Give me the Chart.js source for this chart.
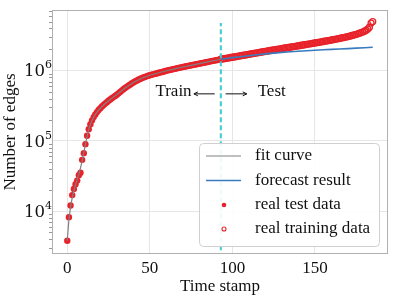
<!DOCTYPE html>
<html>
<head>
<meta charset="utf-8">
<script src="https://cdn.jsdelivr.net/npm/chart.js@4/dist/chart.umd.min.js"></script>
<style>
  html, body { margin: 0; padding: 0; background: #fff; }
  #wrap { width: 399px; height: 298px; }
</style>
</head>
<body>
<div id="wrap"><canvas id="edgeChart"></canvas></div>
<script>
// real data, one value per time stamp
const testStart = 0;
const testEdges = [3780, 8200, 12000, 16900, 20600, 24200, 27200, 32500, 35100, 53700, 66800,
  89800, 118000, 146000, 172000, 196000, 218000, 238000, 257000, 275000, 292000,
  308000, 324000, 340000, 356000, 372000, 388000, 404000, 420000, 437000, 455000,
  475000, 497000, 520000, 543000, 565000, 588000, 610000, 632000, 655000, 678000,
  700000, 720000, 740000, 760000, 779000, 797000, 813000, 829000, 845000, 860000,
  873000, 886000, 899000, 912000, 925000, 939000, 952000, 966000, 980000, 995000,
  1009000, 1022000, 1035000, 1048000, 1061000, 1074000, 1087000, 1100000, 1113000, 1126000,
  1139000, 1152000, 1165000, 1178000, 1191000, 1204000, 1217000, 1230000, 1244000, 1258000,
  1272000, 1286000, 1300000, 1315000, 1330000, 1345000, 1360000, 1375000, 1390000, 1405000, 1420000, 1436000];

const trainStart = 93;
const trainEdges = [1452000, 1466000, 1480000, 1494000, 1508000, 1522000, 1537000, 1552000, 1567000, 1582000,
  1597000, 1612000, 1628000, 1644000, 1660000, 1676000, 1692000, 1708000, 1725000, 1742000,
  1759000, 1776000, 1793000, 1810000, 1828000, 1846000, 1864000, 1882000, 1900000, 1918000,
  1936000, 1954000, 1972000, 1990000, 2008000, 2026000, 2045000, 2064000, 2083000, 2102000,
  2121000, 2140000, 2160000, 2180000, 2200000, 2220000, 2240000, 2260000, 2281000, 2302000,
  2323000, 2344000, 2366000, 2388000, 2410000, 2432000, 2455000, 2478000, 2501000, 2525000,
  2549000, 2573000, 2598000, 2623000, 2649000, 2675000, 2702000, 2730000, 2758000, 2787000,
  2817000, 2848000, 2880000, 2913000, 2947000, 2982000, 3019000, 3058000, 3099000, 3142000,
  3188000, 3237000, 3290000, 3347000, 3410000, 3480000, 3560000, 3650000, 3760000, 3900000,
  4150000, 4750000, 5000000];

// fitted curve and forecast
const fitTimes = [0, 1, 2, 3, 4, 5, 6, 7, 8, 9, 10, 11, 12, 13, 14, 15, 17, 19, 21, 23, 26, 29, 32, 35,
  40, 45, 50, 55, 60, 65, 70, 75, 80, 85, 90, 93];
const fitEdges = [3780, 7600, 11500, 15500, 19500, 23500, 28000, 33500, 41000, 52000, 68000, 89000,
  117000, 146000, 172000, 196000, 238000, 275000, 308000, 340000, 388000, 437000, 497000, 565000,
  678000, 779000, 860000, 925000, 995000, 1061000, 1126000, 1191000, 1258000, 1330000, 1405000, 1452000];

const forecastTimes = [93, 100, 110, 120, 130, 140, 150, 160, 170, 180, 185];
const forecastEdges = [1452000, 1530000, 1630000, 1730000, 1820000, 1890000, 1950000, 2010000, 2060000, 2120000, 2150000];

const splitTime = 93;
const xTicks = [0, 50, 100, 150];
const yTicks = [1e4, 1e5, 1e6];

const labels = ['fit curve', 'forecast result', 'real test data', 'real training data'];

const SERIF = '"Liberation Serif", "Times New Roman", serif';
const MATH = '"DejaVu Serif", serif';
const RED = '#e8222a';

const toPoints = (xs, ys) => ys.map((v, i) => ({ x: xs[i], y: v }));
const fromStart = (start, ys) => ys.map((v, i) => ({ x: start + i, y: v }));

const overlay = {
  id: 'overlay',
  afterDatasetsDraw(chart) {
    const { ctx, chartArea: a, scales: { x, y } } = chart;
    const h = a.bottom - a.top;
    ctx.save();

    // frame
    ctx.strokeStyle = '#b0b0b0';
    ctx.lineWidth = 1;
    ctx.strokeRect(a.left + 0.5, a.top + 0.5, a.right - a.left - 1, a.bottom - a.top - 1);

    // minor ticks on the log axis
    ctx.strokeStyle = '#999';
    ctx.beginPath();
    for (let d = 1e3; d < 1e7; d *= 10) {
      for (let m = 2; m < 10; m++) {
        const v = d * m;
        if (v < y.min || v > y.max) continue;
        const py = Math.round(y.getPixelForValue(v)) + 0.5;
        ctx.moveTo(a.left - 3, py);
        ctx.lineTo(a.left, py);
      }
    }
    ctx.stroke();

    // y tick labels 10^n
    ctx.fillStyle = '#111';
    yTicks.forEach(v => {
      const py = y.getPixelForValue(v);
      const exp = Math.round(Math.log10(v));
      ctx.font = '16.5px ' + MATH;
      ctx.textAlign = 'right';
      ctx.textBaseline = 'middle';
      ctx.fillText('10', a.left - 7, py + 1.5);
      ctx.font = '11px ' + MATH;
      ctx.textAlign = 'left';
      ctx.fillText(String(exp), a.left - 7, py - 5);
    });

    // train / test split
    const sx = x.getPixelForValue(splitTime);
    ctx.strokeStyle = '#3ccbd0';
    ctx.lineWidth = 2;
    ctx.setLineDash([5, 3]);
    ctx.beginPath();
    ctx.moveTo(sx, a.bottom - 0.015 * h);
    ctx.lineTo(sx, a.top + 0.053 * h);
    ctx.stroke();
    ctx.setLineDash([]);

    // annotations
    const arrowY = y.getPixelForValue(467000);
    const textY = y.getPixelForValue(430000);
    ctx.font = '17px ' + SERIF;
    ctx.fillStyle = '#111';
    ctx.textBaseline = 'alphabetic';
    ctx.textAlign = 'right';
    ctx.fillText('Train', x.getPixelForValue(75.3), textY);
    ctx.textAlign = 'left';
    ctx.fillText('Test', x.getPixelForValue(115.3), textY);
    const arrow = (t0, t1) => {
      const x0 = x.getPixelForValue(t0), x1 = x.getPixelForValue(t1);
      const dir = Math.sign(x1 - x0);
      ctx.strokeStyle = '#111';
      ctx.lineWidth = 1;
      ctx.beginPath();
      ctx.moveTo(x0, arrowY);
      ctx.lineTo(x1, arrowY);
      ctx.moveTo(x1 - dir * 4, arrowY - 2);
      ctx.lineTo(x1, arrowY);
      ctx.lineTo(x1 - dir * 4, arrowY + 2);
      ctx.stroke();
    };
    arrow(89.3, 76.7);
    arrow(95.9, 108.7);

    // legend
    const bx = 199, by = 143, bw = 180, bh = 103;
    ctx.fillStyle = 'rgba(255,255,255,0.9)';
    ctx.strokeStyle = '#d0d0d0';
    ctx.beginPath();
    ctx.roundRect(bx + 0.5, by + 0.5, bw, bh, 4);
    ctx.fill();
    ctx.stroke();
    const rows = [156, 180.5, 205, 229];
    ctx.font = '17px ' + SERIF;
    ctx.textAlign = 'left';
    ctx.textBaseline = 'middle';
    rows.forEach((ry, i) => {
      if (i === 0 || i === 1) {
        ctx.strokeStyle = i === 0 ? '#808080' : '#3a7bbf';
        ctx.lineWidth = i === 0 ? 1.2 : 1.6;
        ctx.beginPath();
        ctx.moveTo(206, ry);
        ctx.lineTo(241, ry);
        ctx.stroke();
      } else if (i === 2) {
        ctx.fillStyle = RED;
        ctx.beginPath();
        ctx.arc(224, ry, 2.3, 0, Math.PI * 2);
        ctx.fill();
      } else {
        ctx.strokeStyle = RED;
        ctx.lineWidth = 1.1;
        ctx.beginPath();
        ctx.arc(224, ry, 2, 0, Math.PI * 2);
        ctx.stroke();
      }
      ctx.fillStyle = '#111';
      ctx.fillText(labels[i], 255, ry);
    });
    ctx.restore();
  }
};

new Chart(document.getElementById('edgeChart'), {
  type: 'scatter',
  data: {
    datasets: [
      {
        label: labels[0],
        data: toPoints(fitTimes, fitEdges),
        showLine: true,
        borderColor: '#808080',
        borderWidth: 1.2,
        pointRadius: 0,
        tension: 0
      },
      {
        label: labels[1],
        data: toPoints(forecastTimes, forecastEdges),
        showLine: true,
        borderColor: '#3a7bbf',
        borderWidth: 1.6,
        pointRadius: 0,
        tension: 0.2
      },
      {
        label: labels[2],
        data: fromStart(testStart, testEdges),
        backgroundColor: RED,
        borderColor: RED,
        borderWidth: 0,
        pointRadius: 3.2
      },
      {
        label: labels[3],
        data: fromStart(trainStart, trainEdges),
        backgroundColor: 'rgba(0,0,0,0)',
        borderColor: RED,
        borderWidth: 1.3,
        pointRadius: 3
      }
    ]
  },
  options: {
    responsive: true,
    maintainAspectRatio: false,
    animation: false,
    layout: { padding: { left: 0, right: 11, top: 10, bottom: 0 } },
    plugins: { legend: { display: false }, tooltip: { enabled: false } },
    scales: {
      x: {
        type: 'linear',
        min: -9.25,
        max: 194.25,
        afterBuildTicks: s => { s.ticks = xTicks.map(v => ({ value: v })); },
        afterFit: s => { s.height = 44; },
        grid: { color: '#e6e6e6', drawTicks: false },
        border: { display: false },
        ticks: { padding: 4, color: '#111', font: { family: SERIF, size: 17 } },
        title: {
          display: true,
          text: 'Time stamp',
          color: '#111',
          font: { family: SERIF, size: 17 },
          padding: { top: 0, bottom: 1 }
        }
      },
      y: {
        type: 'logarithmic',
        min: 2450,
        max: 7300000,
        afterBuildTicks: s => { s.ticks = yTicks.map(v => ({ value: v })); },
        afterFit: s => { s.width = 52; },
        grid: { color: '#e6e6e6', drawTicks: false },
        border: { display: false },
        ticks: { display: false },
        title: {
          display: true,
          text: 'Number of edges',
          color: '#111',
          font: { family: SERIF, size: 17 },
          padding: { top: 0, bottom: 0 }
        }
      }
    }
  },
  plugins: [overlay]
});
</script>
</body>
</html>
